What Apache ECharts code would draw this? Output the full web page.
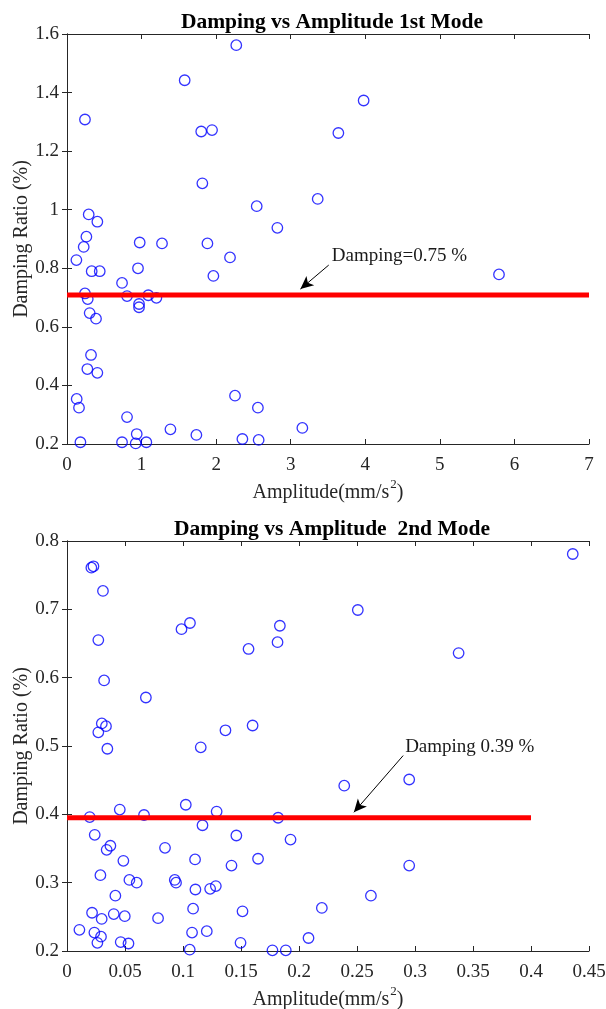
<!DOCTYPE html>
<html>
<head>
<meta charset="utf-8">
<script src="https://cdn.jsdelivr.net/npm/echarts@6/dist/echarts.min.js"></script>
<style>
  html, body { margin: 0; padding: 0; background: #fff; }
  #main { width: 606px; height: 1009px; }
</style>
</head>
<body>
<div id="main"></div>
<script>
// 1st mode
const amp1 = [2.27, 1.578, 0.241, 1.80, 1.945, 1.815, 2.544, 0.291, 0.407, 0.26,
  0.224, 0.975, 1.274, 1.883, 0.126, 2.186, 0.331, 0.439, 0.952, 0.738,
  1.963, 0.241, 0.278, 0.805, 1.09, 1.199, 0.966, 0.966, 0.304, 0.389,
  0.322, 0.273, 0.407, 0.13, 0.161, 2.253, 2.56, 0.805, 0.18, 0.738,
  0.921, 0.935, 1.064, 1.387, 1.735, 2.352, 2.57, 3.978, 3.639, 3.362,
  2.821, 5.793, 3.156];
const damp1 = [1.562, 1.442, 1.308, 1.267, 1.272, 1.09, 1.012, 0.984, 0.959, 0.908,
  0.873, 0.888, 0.885, 0.885, 0.828, 0.837, 0.79, 0.79, 0.80, 0.75,
  0.774, 0.714, 0.695, 0.705, 0.708, 0.699, 0.678, 0.667, 0.647, 0.628,
  0.504, 0.456, 0.443, 0.354, 0.324, 0.365, 0.324, 0.292, 0.206, 0.206,
  0.202, 0.234, 0.206, 0.25, 0.231, 0.217, 0.214, 1.373, 1.262, 1.037,
  0.938, 0.779, 0.255];

// 2nd mode
const amp2 = [0.021, 0.0228, 0.031, 0.0987, 0.106, 0.027, 0.032, 0.068, 0.030, 0.0336,
  0.027, 0.1366, 0.0348, 0.1153, 0.436, 0.2507, 0.1835, 0.1815, 0.1565, 0.3376,
  0.160, 0.239, 0.295, 0.182, 0.146, 0.1927, 0.1418, 0.1647, 0.295, 0.262,
  0.1513, 0.2197, 0.1496, 0.2082, 0.1771, 0.1886, 0.0196, 0.0455, 0.0664, 0.1024,
  0.129, 0.1168, 0.0239, 0.0374, 0.0342, 0.0845, 0.0486, 0.1104, 0.0288, 0.0538,
  0.0601, 0.0929, 0.094, 0.1107, 0.1234, 0.1283, 0.0417, 0.0216, 0.0403, 0.0299,
  0.0498, 0.0785, 0.1087, 0.0107, 0.0236, 0.0293, 0.0262, 0.0463, 0.053, 0.1078,
  0.1205, 0.1058];
const damp2 = [0.761, 0.763, 0.727, 0.671, 0.68, 0.655, 0.596, 0.571, 0.533, 0.529,
  0.52, 0.523, 0.496, 0.498, 0.781, 0.699, 0.676, 0.652, 0.642, 0.636,
  0.530, 0.442, 0.451, 0.395, 0.369, 0.363, 0.325, 0.335, 0.325, 0.281,
  0.258, 0.263, 0.212, 0.219, 0.201, 0.201, 0.396, 0.407, 0.399, 0.414,
  0.404, 0.384, 0.370, 0.354, 0.348, 0.351, 0.332, 0.334, 0.311, 0.304,
  0.30, 0.304, 0.30, 0.29, 0.291, 0.295, 0.281, 0.256, 0.254, 0.247,
  0.251, 0.248, 0.262, 0.231, 0.227, 0.221, 0.212, 0.213, 0.211, 0.227,
  0.229, 0.202];

// reference lines [x0, x1, y]
const ref1 = [0, 7, 0.709];
const ref2 = [0, 0.4, 0.395];
// annotation arrows [xStart, yStart, xEnd, yEnd] and text
const arrow1 = [3.51, 0.811, 3.13, 0.729];
const arrow2 = [0.2898, 0.486, 0.2473, 0.403];
const note1 = { x: 3.55, y: 0.842, text: 'Damping=0.75 %' };
const note2 = { x: 0.2915, y: 0.499, text: 'Damping 0.39 %' };

const font = "'Liberation Serif', 'Times New Roman', serif";
const axisColor = '#262626';

const chart = echarts.init(document.getElementById('main'));

function xAx(gridIndex, min, max, interval, main) {
  return {
    type: 'value', gridIndex, min, max, interval,
    position: main ? 'bottom' : 'top',
    name: main ? 'Amplitude(mm/s{sup|2})' : '',
    nameLocation: 'middle',
    nameGap: 34,
    nameMoveOverlap: false,
    nameTextStyle: {
      fontFamily: font, fontSize: 20, color: axisColor,
      rich: { sup: { fontFamily: font, fontSize: 13, color: axisColor, padding: [0, 0, 16, 1] } }
    },
    axisLine: { show: true, lineStyle: { color: axisColor, width: 1 } },
    axisTick: { show: true, inside: true, length: 5, lineStyle: { color: axisColor } },
    axisLabel: { show: main, fontFamily: font, fontSize: 19, color: axisColor, margin: 12 },
    splitLine: { show: false }
  };
}

function yAx(gridIndex, min, max, interval, main) {
  return {
    type: 'value', gridIndex, min, max, interval,
    position: main ? 'left' : 'right',
    name: main ? 'Damping Ratio (%)' : '',
    nameLocation: 'middle',
    nameGap: 35,
    nameMoveOverlap: false,
    nameTextStyle: { fontFamily: font, fontSize: 20, color: axisColor },
    axisLine: { show: true, lineStyle: { color: axisColor, width: 1 } },
    axisTick: { show: true, inside: true, length: 5, lineStyle: { color: axisColor } },
    axisLabel: { show: main, fontFamily: font, fontSize: 19, color: axisColor, margin: 8 },
    splitLine: { show: false }
  };
}

function scatter(amp, damp, ax) {
  return {
    type: 'scatter',
    xAxisIndex: ax, yAxisIndex: ax,
    symbol: 'circle',
    symbolSize: 10.5,
    itemStyle: { color: 'rgba(0,0,0,0)', borderColor: '#0000ff', borderWidth: 1.3 },
    data: amp.map((a, i) => [a, damp[i]]),
    z: 2
  };
}

function refLine(ref, arrow, note, ax) {
  return {
    type: 'line',
    xAxisIndex: ax, yAxisIndex: ax,
    symbol: 'none',
    lineStyle: { color: '#ff0000', width: 5 },
    data: [[ref[0], ref[2]], [ref[1], ref[2]]],
    z: 3,
    markLine: {
      silent: true,
      symbol: ['none', 'arrow'],
      symbolSize: [9, 13],
      label: { show: false },
      lineStyle: { color: '#000', width: 1, type: 'solid' },
      data: [[{ coord: [arrow[0], arrow[1]] }, { coord: [arrow[2], arrow[3]] }]]
    },
    markPoint: {
      silent: true,
      symbol: 'circle',
      symbolSize: 0,
      data: [{
        coord: [note.x, note.y],
        label: {
          show: true, position: 'right', distance: 0,
          formatter: note.text,
          fontFamily: font, fontSize: 19, color: '#1a1a1a'
        }
      }]
    }
  };
}

const option = {
  animation: false,
  backgroundColor: '#fff',
  title: [
    {
      text: 'Damping vs Amplitude 1st Mode',
      left: 327, top: 6, textAlign: 'center',
      textStyle: { fontFamily: font, fontSize: 21.5, fontWeight: 'bold', color: '#000' }
    },
    {
      text: 'Damping vs Amplitude  2nd Mode',
      left: 327, top: 513, textAlign: 'center',
      textStyle: { fontFamily: font, fontSize: 21.5, fontWeight: 'bold', color: '#000' }
    }
  ],
  grid: [
    { left: 67, right: 17, top: 34, height: 410, outerBoundsMode: 'none' },
    { left: 67, right: 17, top: 541, height: 410, outerBoundsMode: 'none' }
  ],
  xAxis: [
    xAx(0, 0, 7, 1, true),
    xAx(0, 0, 7, 1, false),
    xAx(1, 0, 0.45, 0.05, true),
    xAx(1, 0, 0.45, 0.05, false)
  ],
  yAxis: [
    yAx(0, 0.2, 1.6, 0.2, true),
    yAx(0, 0.2, 1.6, 0.2, false),
    yAx(1, 0.2, 0.8, 0.1, true),
    yAx(1, 0.2, 0.8, 0.1, false)
  ],
  series: [
    scatter(amp1, damp1, 0),
    refLine(ref1, arrow1, note1, 0),
    scatter(amp2, damp2, 2),
    refLine(ref2, arrow2, note2, 2)
  ]
};

chart.setOption(option);
</script>
</body>
</html>
